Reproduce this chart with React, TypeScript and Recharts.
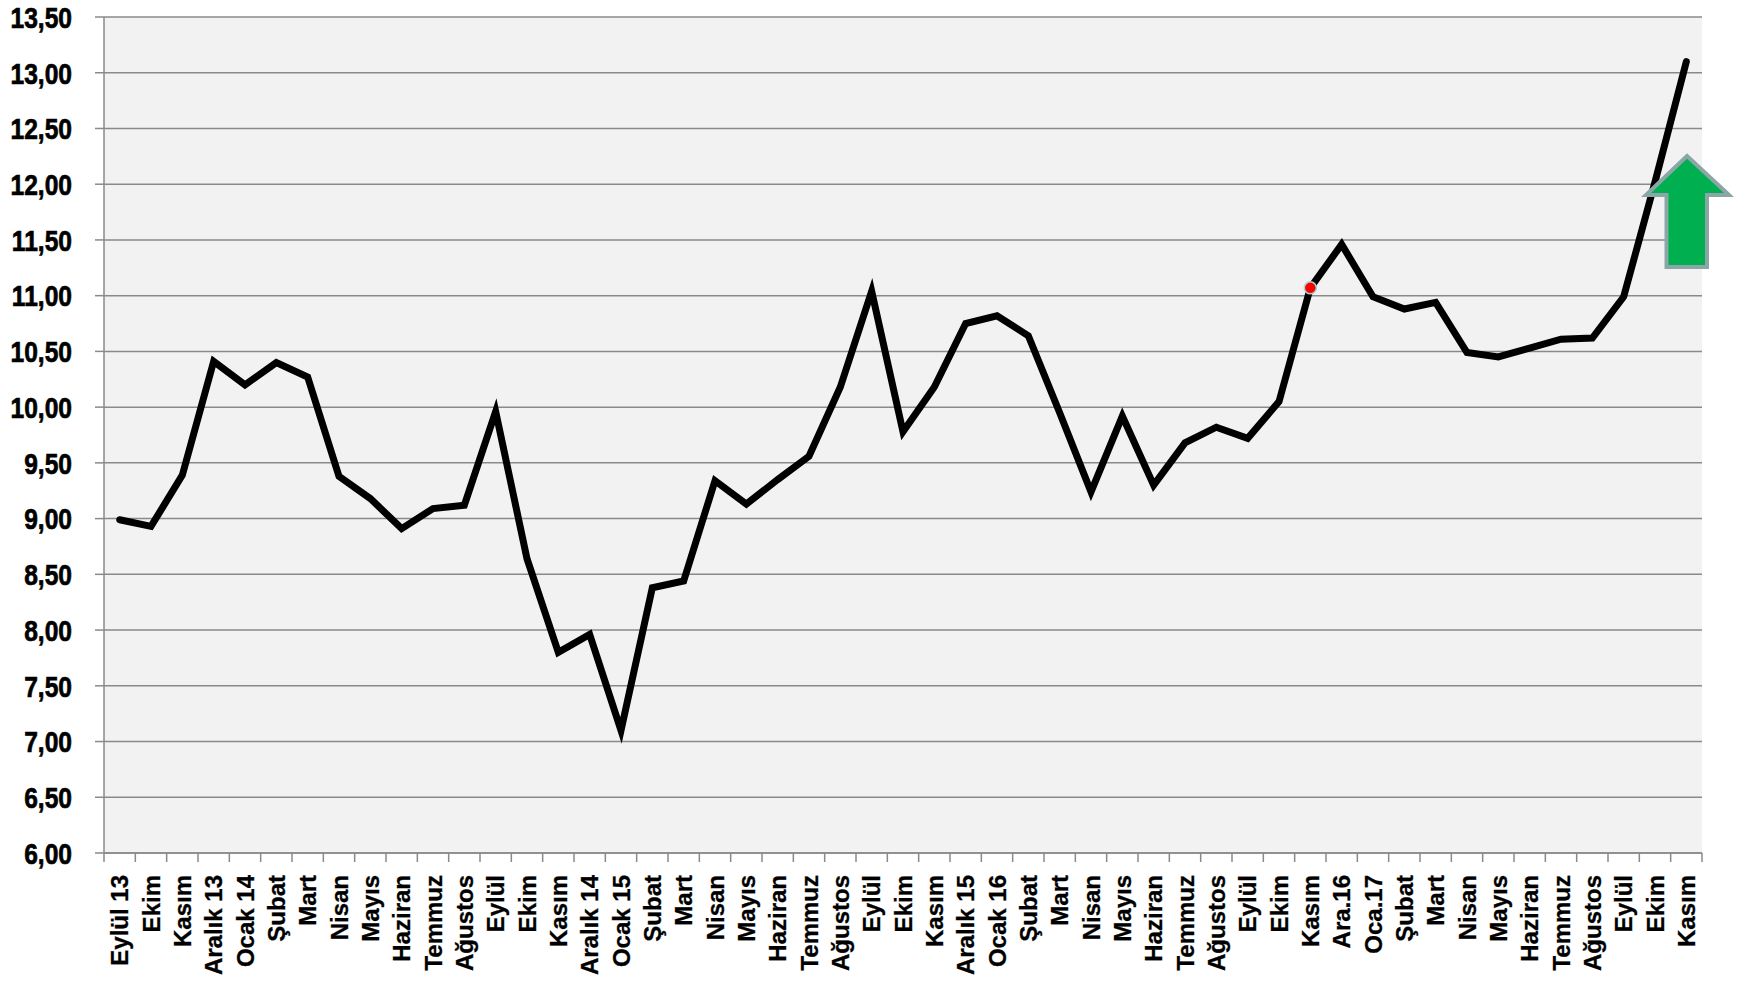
import React from 'react';
import { LineChart, Line, XAxis, YAxis, CartesianGrid } from 'recharts';

const months = [
  'Eylül 13', 'Ekim', 'Kasım', 'Aralık 13', 'Ocak 14', 'Şubat', 'Mart', 'Nisan', 'Mayıs', 'Haziran',
  'Temmuz', 'Ağustos', 'Eylül', 'Ekim', 'Kasım', 'Aralık 14', 'Ocak 15', 'Şubat', 'Mart', 'Nisan',
  'Mayıs', 'Haziran', 'Temmuz', 'Ağustos', 'Eylül', 'Ekim', 'Kasım', 'Aralık 15', 'Ocak 16', 'Şubat',
  'Mart', 'Nisan', 'Mayıs', 'Haziran', 'Temmuz', 'Ağustos', 'Eylül', 'Ekim', 'Kasım', 'Ara.16',
  'Oca.17', 'Şubat', 'Mart', 'Nisan', 'Mayıs', 'Haziran', 'Temmuz', 'Ağustos', 'Eylül', 'Ekim', 'Kasım',
];

const rates = [
  8.99, 8.93, 9.39, 10.41, 10.2, 10.4, 10.27, 9.38, 9.18, 8.91,
  9.09, 9.12, 9.96, 8.64, 7.8, 7.96, 7.1, 8.38, 8.44, 9.34,
  9.13, 9.35, 9.56, 10.18, 11.04, 9.78, 10.18, 10.75, 10.82, 10.64,
  9.95, 9.24, 9.92, 9.3, 9.68, 9.82, 9.72, 10.05, 11.07, 11.46,
  10.99, 10.88, 10.94, 10.49, 10.45, 10.53, 10.61, 10.62, 10.99, 12.02, 13.1,
];

const yTicks = [6, 6.5, 7, 7.5, 8, 8.5, 9, 9.5, 10, 10.5, 11, 11.5, 12, 12.5, 13, 13.5];

// the red marker sits on Kasım 2016
const highlightIndex = 38;

const data = months.map((m, i) => ({ month: m, rate: rates[i] }));

const W = 1743;
const H = 984;
const PLOT_LEFT = 104;
const PLOT_RIGHT = 1702;
const PLOT_TOP = 17;
const PLOT_BOTTOM = 853;
const STEP = (PLOT_RIGHT - PLOT_LEFT) / months.length;
const GRID = '#8a8a8a';

const XTick = (props: any) => {
  const { x, y, payload, index } = props;
  const half = STEP / 2;
  const ty = y + 22;
  return (
    <g>
      <line x1={x - half} x2={x - half} y1={y} y2={y + 9} stroke={GRID} strokeWidth={1.5} />
      {index === months.length - 1 && (
        <line x1={x + half} x2={x + half} y1={y} y2={y + 9} stroke={GRID} strokeWidth={1.5} />
      )}
      <text
        x={x}
        y={ty}
        dy="0.36em"
        transform={`rotate(-90 ${x} ${ty})`}
        textAnchor="end"
        fontFamily="'Liberation Sans', Arial, sans-serif"
        fontWeight="bold"
        fontSize={24}
        fill="#000"
        stroke="#000"
        strokeWidth={0.3}
      >
        {payload.value}
      </text>
    </g>
  );
};

const YTick = (props: any) => {
  const { x, y, payload } = props;
  return (
    <text
      transform={`translate(${x} ${y}) scale(0.82 1)`}
      x={0}
      y={0}
      dy="0.36em"
      textAnchor="end"
      fontFamily="'Liberation Sans', Arial, sans-serif"
      fontWeight="bold"
      fontSize={30}
      fill="#000"
      stroke="#000"
      strokeWidth={0.7}
    >
      {payload.value.toFixed(2).replace('.', ',')}
    </text>
  );
};

const renderDot = (props: any) => {
  const { cx, cy, index } = props;
  if (index !== highlightIndex) return <g key={`d-${index}`} />;
  return <circle key={`d-${index}`} cx={cx} cy={cy} r={6} fill="#ff0000" stroke="#a8d0d8" strokeWidth={1.5} />;
};

export default function App() {
  return (
    <div style={{ position: 'absolute', left: 0, top: 0, width: W, height: H, background: '#fff' }}>
      <LineChart
        width={W}
        height={H}
        data={data}
        margin={{ top: PLOT_TOP, right: W - PLOT_RIGHT, bottom: 0, left: 0 }}
      >
        <CartesianGrid vertical={false} fill="#f2f2f2" stroke={GRID} strokeWidth={1.5} />
        <XAxis
          dataKey="month"
          interval={0}
          allowDuplicatedCategory
          height={H - PLOT_BOTTOM}
          padding={{ left: STEP / 2, right: STEP / 2 }}
          axisLine={{ stroke: GRID, strokeWidth: 1.5 }}
          tickLine={false}
          tickSize={0}
          tickMargin={0}
          tick={<XTick />}
        />
        <YAxis
          domain={[6, 13.5]}
          ticks={yTicks}
          width={PLOT_LEFT}
          axisLine={{ stroke: GRID, strokeWidth: 1.5 }}
          tickLine={{ stroke: GRID, strokeWidth: 1.5 }}
          tickSize={9}
          tickMargin={23}
          tick={<YTick />}
        />
        <Line
          type="linear"
          dataKey="rate"
          stroke="#000"
          strokeWidth={7}
          strokeLinecap="round"
          dot={renderDot}
          activeDot={false}
          isAnimationActive={false}
        />
      </LineChart>
      <svg width={W} height={H} style={{ position: 'absolute', left: 0, top: 0, pointerEvents: 'none' }}>
        <polygon
          points="1687,156 1729,195 1707,195 1707,267 1666.5,267 1666.5,195 1646,195"
          fill="#00b050"
          stroke="#8ba6a6"
          strokeWidth={4}
        />
      </svg>
    </div>
  );
}
